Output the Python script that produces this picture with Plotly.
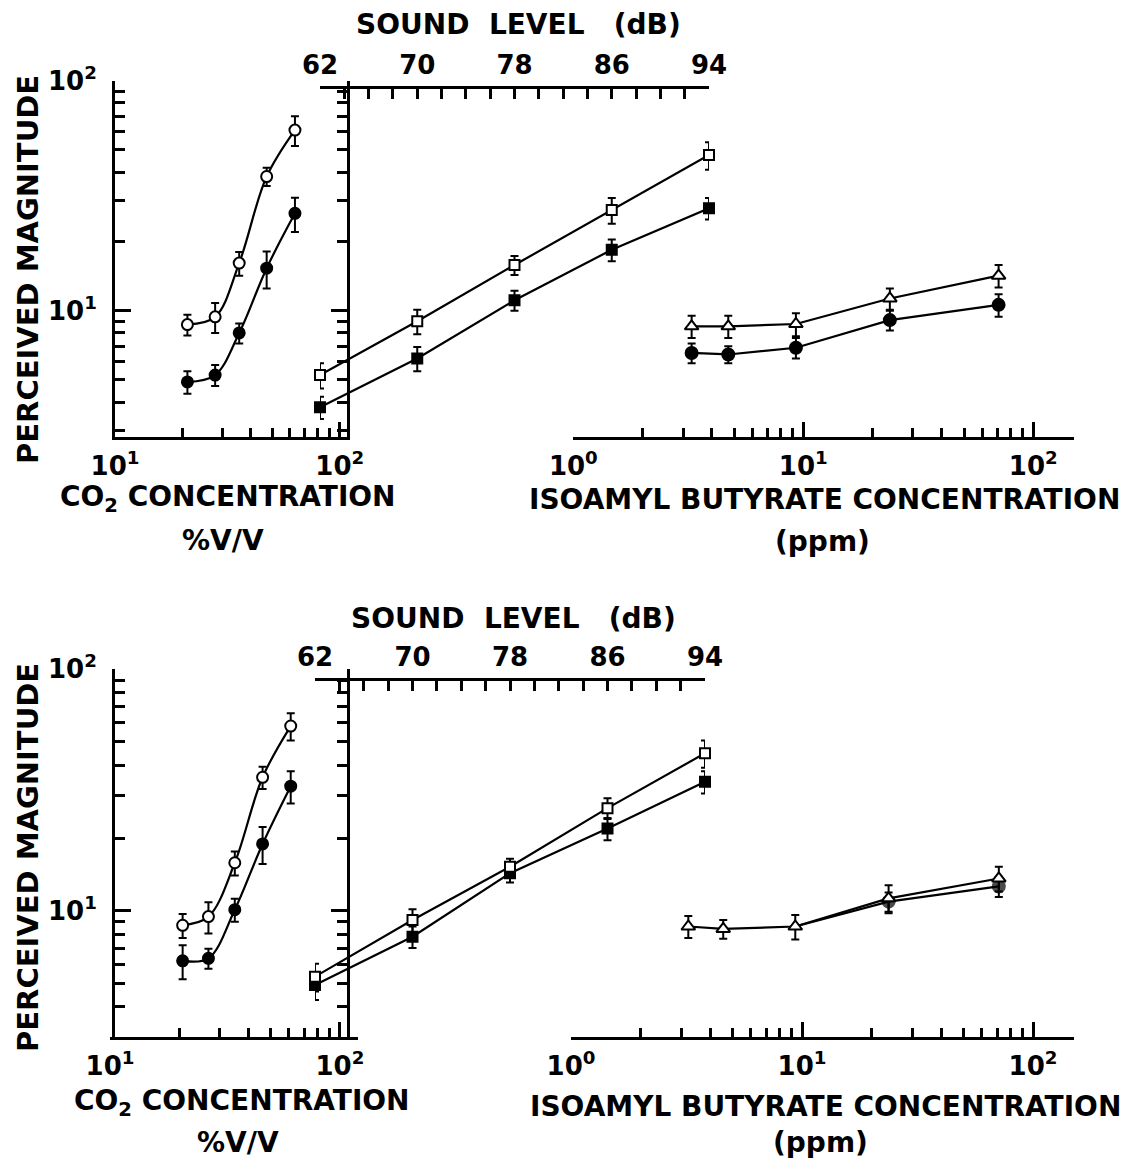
import plotly.graph_objects as go

W, H = 1127, 1163

# ---------------- data ----------------
# Top panel
top_co2_conc = [21.0, 27.9, 35.7, 47.3, 63.2]
top_co2_open = [8.7, 9.4, 16.1, 38.3, 61.0]
top_co2_open_err = [0.9, 1.4, 1.9, 3.5, 9.0]
top_co2_filled = [4.9, 5.25, 8.0, 15.3, 26.5]
top_co2_filled_err = [0.55, 0.55, 0.8, 2.8, 4.5]

top_sound_db = [62, 70, 78, 86, 94]
top_sound_open = [5.25, 9.0, 15.8, 27.4, 47.5]
top_sound_open_err = [0.66, 1.1, 1.5, 3.5, 6.5]
top_sound_filled = [3.8, 6.2, 11.1, 18.4, 27.9]
top_sound_filled_err = [0.42, 0.75, 1.1, 2.0, 3.0]

top_iso_ppm = [3.27, 4.72, 9.29, 23.8, 70.7]
top_iso_open = [8.55, 8.55, 8.75, 11.3, 14.2]
top_iso_open_err = [0.95, 0.95, 1.0, 1.2, 1.6]
top_iso_filled = [6.55, 6.45, 6.9, 9.1, 10.6]
top_iso_filled_err = [0.65, 0.55, 0.7, 0.9, 1.2]

# Bottom panel
bot_co2_conc = [20.7, 26.8, 34.9, 46.1, 61.1]
bot_co2_open = [8.7, 9.45, 15.8, 35.7, 58.2]
bot_co2_open_err = [1.0, 1.4, 1.8, 3.8, 7.5]
bot_co2_filled = [6.2, 6.35, 10.1, 18.9, 32.8]
bot_co2_filled_err = [1.0, 0.6, 1.1, 3.3, 5.0]

bot_sound_db = [62, 70, 78, 86, 94]
bot_sound_open = [5.33, 9.15, 15.2, 26.6, 44.9]
bot_sound_open_err = [0.7, 1.0, 1.2, 2.6, 5.8]
bot_sound_filled = [4.92, 7.8, 14.3, 21.9, 34.2]
bot_sound_filled_err = [0.65, 0.8, 1.2, 2.3, 3.6]

bot_iso_ppm = [3.22, 4.56, 9.35, 23.7, 71.1]
bot_iso_open = [8.6, 8.4, 8.6, 11.25, 13.6]
bot_iso_open_err = [0.9, 0.75, 1.0, 1.5, 1.6]
bot_iso_filled = [None, None, 8.6, 10.9, 12.6]
bot_iso_filled_err = [0, 0, 0, 1.0, 1.2]

# tick values / labels
y_tickvals = [10, 100]
y_ticktext = ["10<sup>1</sup>", "10<sup>2</sup>"]
y_minor = [3, 4, 5, 6, 7, 8, 9, 20, 30, 40, 50, 60, 70, 80, 90]
co2_tickvals = [10, 100]
co2_ticktext = ["10<sup>1</sup>", "10<sup>2</sup>"]
co2_minor = [20, 30, 40, 50, 60, 70, 80, 90]
iso_tickvals = [1, 10, 100]
iso_ticktext = ["10<sup>0</sup>", "10<sup>1</sup>", "10<sup>2</sup>"]
iso_minor = [2, 3, 4, 5, 6, 7, 8, 9, 20, 30, 40, 50, 60, 70, 80, 90]
sound_tickvals = [62, 70, 78, 86, 94]
sound_minor = [64, 66, 68, 72, 74, 76, 80, 82, 84, 88, 90, 92]

# ---------------- layout helpers ----------------
FONT = "DejaVu Sans"
tick_font = dict(family=FONT, size=26, color="black", weight="bold")
ann_font = dict(family=FONT, size=28, color="black", weight="bold")


def fx(p):
    return p / W


def fy(p):
    return 1 - p / H


panels = [
    dict(ytop=80.7, ybot=436.7, yrange=[0.452, 2.0],
         co2=(115, 346.7, 2.031), iso=(573.3, 1073.7, 2.176), sound=(320, 709, 87.3),
         ytitle=270, sound_title=(518, 25), co2_title=(228, 498), co2_unit=(223, 540),
         iso_title=(824, 499), iso_unit=(822, 541)),
    dict(ytop=669.3, ybot=1036.7, yrange=[0.478, 2.0],
         co2=(110, 358.3, 2.08), iso=(571, 1073.7, 2.176), sound=(315, 705, 679.3),
         ytitle=858, sound_title=(513, 618), co2_title=(242, 1102), co2_unit=(238, 1142),
         iso_title=(825, 1106), iso_unit=(820, 1142)),
]

fig = go.Figure()
layout = dict(width=W, height=H, margin=dict(l=0, r=0, t=0, b=0, pad=0, autoexpand=False),
              paper_bgcolor="white", plot_bgcolor="rgba(0,0,0,0)", showlegend=False,
              annotations=[])

common_line = dict(showline=True, linewidth=3, linecolor="black", showgrid=False,
                   zeroline=False, tickcolor="black", tickwidth=2.5, automargin=False)


def series(x, y, err, xa, ya, symbol, filled, shape="linear", size=10, sizes=None):
    fig.add_trace(go.Scatter(
        x=x, y=y, xaxis=xa, yaxis=ya, mode="lines+markers", cliponaxis=False,
        line=dict(color="black", width=2.2, shape=shape, smoothing=1.0),
        marker=dict(symbol=symbol, size=sizes if sizes is not None else size,
                    color="black" if filled else "white",
                    line=dict(color="black", width=2)),
        error_y=dict(type="data", array=err, color="black", thickness=2, width=4),
        hoverinfo="skip"))


for i, p in enumerate(panels):
    k = 4 * i
    xh, xc, xi, xs = f"xaxis{k+1 if k else ''}", f"xaxis{k+2}", f"xaxis{k+3}", f"xaxis{k+4}"
    xh_id = f"x{k+1 if k else ''}"
    yname = "yaxis" if i == 0 else "yaxis2"
    y_id = "y" if i == 0 else "y2"
    ydom = [fy(p["ybot"]), fy(p["ytop"])]

    # hidden full-width x axis to place both vertical axes
    layout[xh] = dict(domain=[fx(p["co2"][0]), fx(p["iso"][1])], anchor=y_id,
                      visible=False, range=[0, 1], automargin=False)
    layout[yname] = dict(type="log", domain=ydom, range=p["yrange"], anchor=xh_id,
                         mirror="ticks", ticks="inside", ticklen=16,
                         tickvals=y_tickvals, ticktext=y_ticktext, tickfont=tick_font,
                         ticklabelstandoff=10,
                         minor=dict(tickvals=y_minor, ticks="inside", ticklen=10,
                                    tickwidth=2.5, tickcolor="black", showgrid=False),
                         **common_line)
    c0, c1, cmax = p["co2"]
    layout[xc] = dict(type="log", domain=[fx(c0), fx(c1)], range=[1, cmax], anchor=y_id,
                      ticks="inside", ticklen=15, tickvals=co2_tickvals,
                      ticktext=co2_ticktext, tickfont=tick_font, ticklabelstandoff=4,
                      minor=dict(tickvals=co2_minor, ticks="inside", ticklen=9,
                                 tickwidth=2.5, tickcolor="black", showgrid=False),
                      **common_line)
    i0, i1, imax = p["iso"]
    layout[xi] = dict(type="log", domain=[fx(i0), fx(i1)], range=[0, imax], anchor=y_id,
                      ticks="inside", ticklen=15, tickvals=iso_tickvals,
                      ticktext=iso_ticktext, tickfont=tick_font, ticklabelstandoff=4,
                      minor=dict(tickvals=iso_minor, ticks="inside", ticklen=9,
                                 tickwidth=2.5, tickcolor="black", showgrid=False),
                      **common_line)
    s0, s1, sy = p["sound"]
    layout[xs] = dict(domain=[fx(s0), fx(s1)], range=[62, 94], side="top",
                      anchor="free", position=fy(sy), ticks="inside", ticklen=10,
                      tickvals=sound_tickvals, tickfont=tick_font, ticklabelstandoff=2,
                      minor=dict(tickvals=sound_minor, ticks="inside", ticklen=10,
                                 tickwidth=2.5, tickcolor="black", showgrid=False),
                      **common_line)

    def ann(text, xy, angle=0, size=28):
        f = dict(ann_font)
        f["size"] = size
        layout["annotations"].append(dict(
            text=text, x=fx(xy[0]), y=fy(xy[1]), xref="paper", yref="paper",
            showarrow=False, xanchor="center", yanchor="middle", textangle=angle, font=f))

    ann("PERCEIVED MAGNITUDE", (28, p["ytitle"]), angle=-90, size=29)
    ann("SOUND&nbsp; LEVEL&nbsp;&nbsp;&nbsp;(dB)", p["sound_title"], size=28)
    ann("CO<sub>2</sub> CONCENTRATION", p["co2_title"])
    ann("%V/V", p["co2_unit"])
    ann("ISOAMYL BUTYRATE CONCENTRATION", p["iso_title"])
    ann("(ppm)", p["iso_unit"])

# ---------------- traces ----------------
series(top_co2_conc, top_co2_open, top_co2_open_err, "x2", "y", "circle", False, "spline", 11)
series(top_co2_conc, top_co2_filled, top_co2_filled_err, "x2", "y", "circle", True, "spline", 11)
series(top_sound_db, top_sound_open, top_sound_open_err, "x4", "y", "square", False, "linear", 10)
series(top_sound_db, top_sound_filled, top_sound_filled_err, "x4", "y", "square", True, "linear", 10)
series(top_iso_ppm, top_iso_open, top_iso_open_err, "x3", "y", "triangle-up", False, "linear", 12)
series(top_iso_ppm, top_iso_filled, top_iso_filled_err, "x3", "y", "circle", True, "linear", 12)

series(bot_co2_conc, bot_co2_open, bot_co2_open_err, "x6", "y2", "circle", False, "spline", 11)
series(bot_co2_conc, bot_co2_filled, bot_co2_filled_err, "x6", "y2", "circle", True, "spline", 11)
series(bot_sound_db, bot_sound_filled, bot_sound_filled_err, "x8", "y2", "square", True, "linear", 10)
series(bot_sound_db, bot_sound_open, bot_sound_open_err, "x8", "y2", "square", False, "linear", 10)
series(bot_iso_ppm, bot_iso_filled, bot_iso_filled_err, "x7", "y2", "circle", True, "linear",
       sizes=[0 if j < 3 else 12 for j in range(len(bot_iso_ppm))])
series(bot_iso_ppm, bot_iso_open, bot_iso_open_err, "x7", "y2", "triangle-up", False, "linear", 12)

fig.update_layout(**layout)
fig.write_html(
    "out.html",
    config={"displayModeBar": False},
    post_script="document.body.style.margin='0px';document.body.style.padding='0px';",
)
